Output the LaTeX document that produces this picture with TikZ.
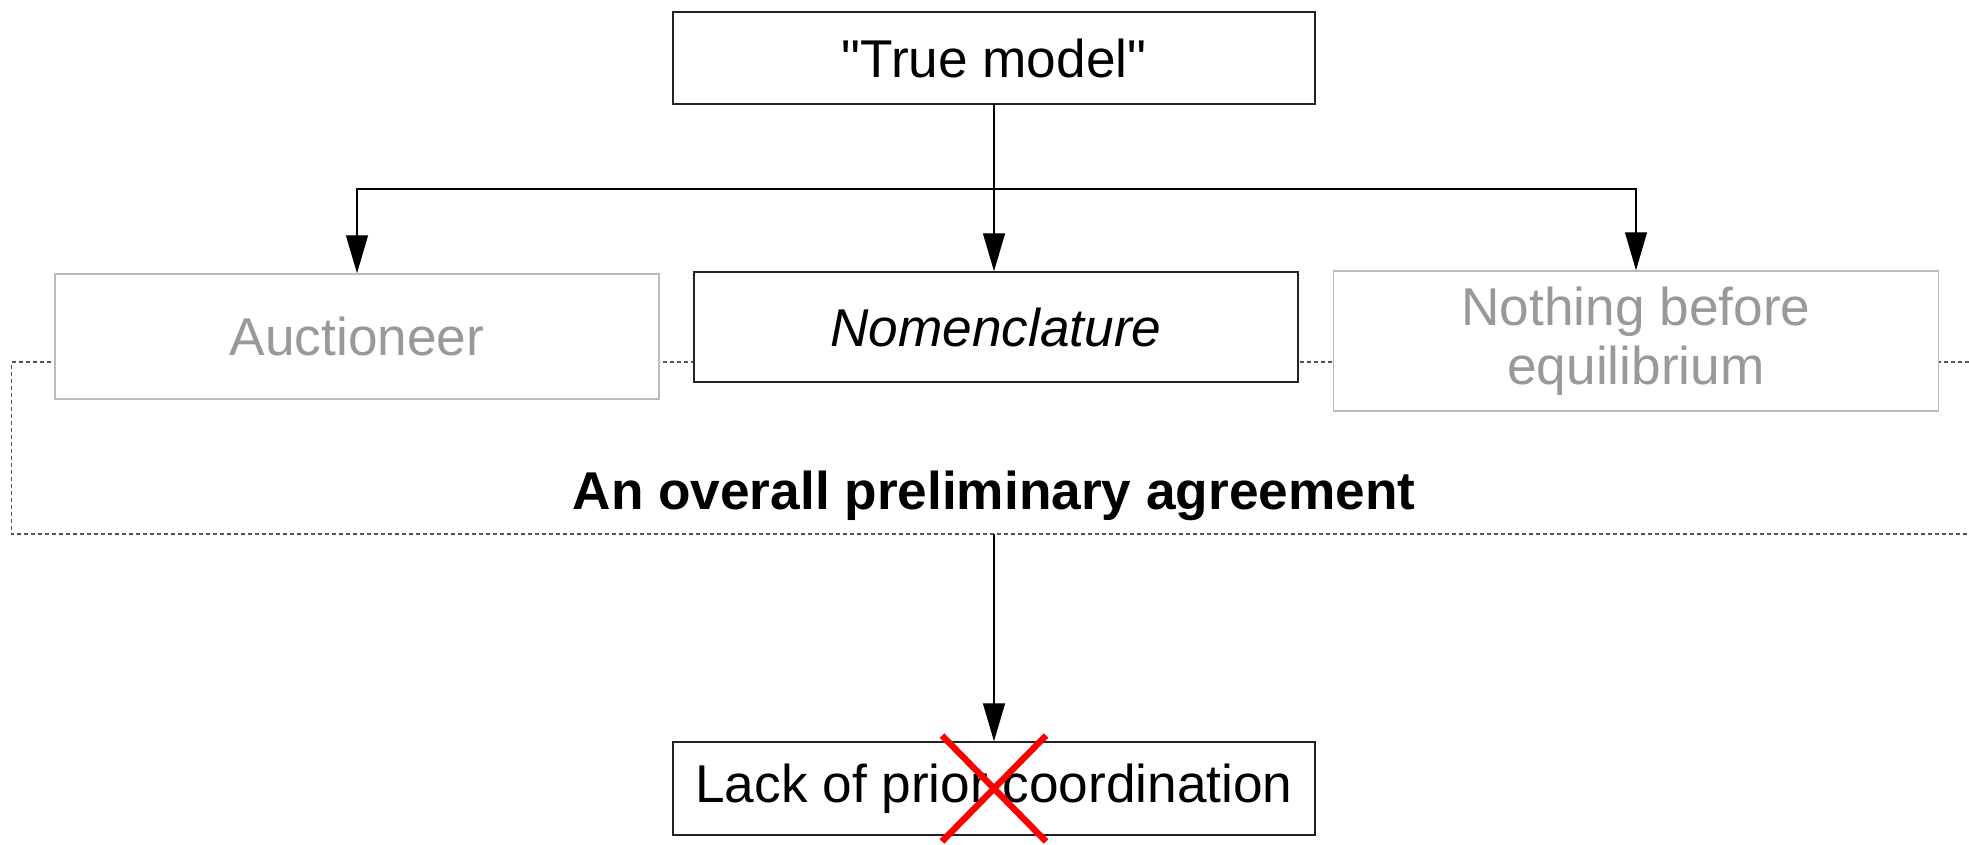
\documentclass[tikz,border=0pt]{standalone}
\usepackage{fontspec}
\setmainfont{Liberation Sans}[Ligatures=TeXOff]
\usetikzlibrary{arrows.meta}
\definecolor{boxgray}{HTML}{BBBBBB}
\definecolor{txtgray}{HTML}{999999}
\definecolor{dashgray}{HTML}{555555}
\definecolor{darkline}{HTML}{222222}
\begin{document}
\begin{tikzpicture}[x=0.5pt,y=-0.5pt,
  basebox/.style={fill=white, line width=0.7pt, inner sep=0pt, align=center,
    font=\fontsize{26.6pt}{29.5pt}\selectfont},
  darkbox/.style={basebox, draw=darkline, text=black},
  graybox/.style={basebox, draw=boxgray, text=txtgray},
  conn/.style={draw=black, line width=0.6pt, -{Triangle[length=19pt,width=11pt]}},
  dashline/.style={draw=dashgray, line width=0.6pt, dash pattern=on 2pt off 1.5pt},
  crossline/.style={draw=red, line width=3.2pt}
]
\useasboundingbox (0,0) rectangle (1969,845);

% dashed grouping frame (open on the right)
\coordinate (dtr) at (1969,362);
\coordinate (dtl) at (11.5,362);
\coordinate (dbl) at (11.5,534);
\coordinate (dbr) at (1969,534);
\draw[dashline] (dtr) -- (dtl) -- (dbl) -- (dbr);

% boxes
\node[darkbox, minimum width=321pt, minimum height=46pt] (top) at (994,58) {"True model"};
\node[darkbox, minimum width=302pt, minimum height=55pt,
  font=\fontsize{26.6pt}{29.5pt}\selectfont\itshape] (nom) at (996,327) {Nomenclature};
\node[graybox, minimum width=302pt, minimum height=62.5pt] (auc) at (357,336.5) {Auctioneer};
\node[graybox, minimum width=302.5pt, minimum height=70pt] (noth) at (1636,341) {Nothing before\\equilibrium};
\node[darkbox, minimum width=321pt, minimum height=46.5pt] (lack) at (994,788.5) {Lack of prior coordination};

\node[font=\fontsize{26.6pt}{29.5pt}\selectfont\bfseries] (agr) at (994,496) {An overall preliminary agreement};

% connectors
\coordinate (split) at (994,189);
\coordinate (dbot) at (994,534);
\draw[conn] (top.south) -- (top.south |- nom.north);
\draw[conn] (split) -| (auc.north);
\draw[conn] (split) -| (noth.north);
\draw[conn] (dbot) -- (dbot |- lack.north);

% red cross
\draw[crossline] ([xshift=-26pt,yshift=26.5pt]lack.center) -- ([xshift=26pt,yshift=-26.5pt]lack.center);
\draw[crossline] ([xshift=26pt,yshift=26.5pt]lack.center) -- ([xshift=-26pt,yshift=-26.5pt]lack.center);
\end{tikzpicture}
\end{document}
